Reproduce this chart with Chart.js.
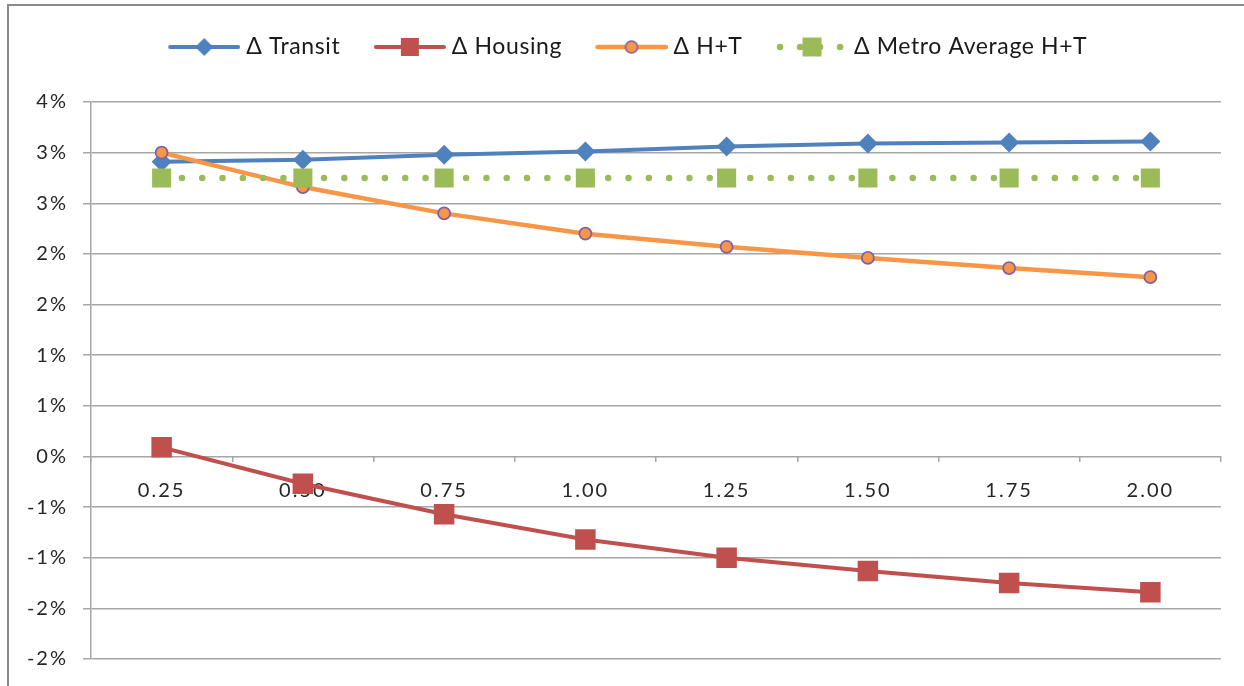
<!DOCTYPE html>
<html>
<head>
<meta charset="utf-8">
<script src="https://cdn.jsdelivr.net/npm/chart.js@4/dist/chart.umd.min.js"></script>
<style>
  html, body { margin: 0; padding: 0; background: #ffffff; }
  #wrap { position: relative; width: 1244px; height: 686px; overflow: hidden; background: #ffffff; }
  #frame { position: absolute; left: 7px; top: 4px; width: 1400px; height: 900px;
           border-left: 2px solid #8a8a8a; border-top: 2px solid #8a8a8a; }
  #box { position: absolute; left: 0; top: 0; width: 1244px; height: 686px; }
</style>
</head>
<body>
<div id="wrap">
  <div id="frame"></div>
  <div id="box"><canvas id="chart"></canvas></div>
</div>
<script>
// Categories along the x axis
const categories = ['0.25', '0.50', '0.75', '1.00', '1.25', '1.50', '1.75', '2.00'];

// Series values, in percent
const transit  = [2.91, 2.93, 2.98, 3.01, 3.06, 3.09, 3.10, 3.11];
const housing  = [0.09, -0.27, -0.57, -0.82, -1.00, -1.13, -1.25, -1.34];
const hPlusT   = [3.00, 2.66, 2.40, 2.20, 2.07, 1.96, 1.86, 1.77];
const metroAvg = [2.75, 2.75, 2.75, 2.75, 2.75, 2.75, 2.75, 2.75];

// Series names
const seriesNames = ['Δ Transit', 'Δ Housing', 'Δ H+T', 'Δ Metro Average H+T'];

// Value axis range, in percent
const yMin = -2.0;
const yMax = 3.5;
const yStep = 0.5;

const BLUE = '#4F81BD';
const RED = '#C0504D';
const ORANGE = '#F79646';
const PURPLE = '#7E62A8';
const GREEN = '#9BBB59';
const GRID = '#a6a6a6';
const TEXT = '#262626';
const FONT = 'Lato, "Open Sans", sans-serif';

// Extra tracking for axis and legend text
const TICK_SPACING = '2px';
const LEGEND_SPACING = '0.6px';

// Plot frame: left edge of the plot and left page margin
const PAD_LEFT = 7;
const PLOT_LEFT = 91;

// Legend geometry
const LEG_FONT = 23;
const LEG_GAP = 6;
const SAMPLE_LEN = 72;
const BOX_W = 94;
const IMG_W = BOX_W + LEG_FONT - 12;   // sample ends 6px before the text
const IMG_H = 28;

function makeSample(kind) {
  const cv = document.createElement('canvas');
  cv.width = IMG_W; cv.height = IMG_H;
  const g = cv.getContext('2d');
  const x1 = IMG_W - SAMPLE_LEN, x2 = IMG_W, cy = IMG_H / 2, cx = (x1 + x2) / 2;
  g.lineCap = 'round';
  if (kind === 'transit') {
    g.strokeStyle = BLUE; g.lineWidth = 4;
    g.beginPath(); g.moveTo(x1 + 2, cy); g.lineTo(x2 - 2, cy); g.stroke();
    g.fillStyle = BLUE;
    g.beginPath(); g.moveTo(cx, cy - 9); g.lineTo(cx + 9, cy); g.lineTo(cx, cy + 9); g.lineTo(cx - 9, cy); g.closePath(); g.fill();
  } else if (kind === 'housing') {
    g.strokeStyle = RED; g.lineWidth = 4;
    g.beginPath(); g.moveTo(x1 + 2, cy); g.lineTo(x2 - 2, cy); g.stroke();
    g.fillStyle = RED; g.fillRect(cx - 9, cy - 9, 18, 18);
  } else if (kind === 'ht') {
    g.strokeStyle = ORANGE; g.lineWidth = 4.5;
    g.beginPath(); g.moveTo(x1 + 2, cy); g.lineTo(x2 - 2, cy); g.stroke();
    g.fillStyle = ORANGE; g.strokeStyle = PURPLE; g.lineWidth = 1.6;
    g.beginPath(); g.arc(cx, cy, 6, 0, Math.PI * 2); g.fill(); g.stroke();
  } else {
    g.strokeStyle = GREEN; g.lineWidth = 6.5; g.setLineDash([0, 20]);
    g.beginPath(); g.moveTo(x1 + 4, cy); g.lineTo(x2, cy); g.stroke();
    g.setLineDash([]);
    g.fillStyle = GREEN; g.fillRect(cx - 9.5, cy - 9.5, 19, 19);
  }
  return cv;
}
const samples = [makeSample('transit'), makeSample('housing'), makeSample('ht'), makeSample('metro')];

function pctLabel(v) {
  // whole-percent labels, halves rounded away from zero
  const r = Math.sign(v) * Math.round(Math.abs(v) + 1e-9);
  return (r === 0 ? 0 : r) + '%';
}

// Letter spacing: one value for axis text, another while the legend measures and draws
const textSpacing = {
  id: 'textSpacing',
  afterInit(chart) {
    const lg = chart.legend;
    if (!lg) return;
    const wrap = (fn) => function (...args) {
      const c = chart.ctx;
      const prev = c.letterSpacing;
      c.letterSpacing = LEGEND_SPACING;
      const out = fn.apply(this, args);
      c.letterSpacing = prev;
      return out;
    };
    lg.fit = wrap(lg.fit);
    lg.draw = wrap(lg.draw);
  },
  beforeUpdate(chart) { chart.ctx.letterSpacing = TICK_SPACING; },
  beforeDraw(chart) { chart.ctx.letterSpacing = TICK_SPACING; }
};

new Chart(document.getElementById('chart'), {
  type: 'line',
  plugins: [textSpacing],
  data: {
    labels: categories,
    datasets: [
      { label: seriesNames[0], data: transit, borderColor: BLUE, backgroundColor: BLUE,
        borderWidth: 4, pointStyle: 'rectRot', pointRadius: 10, pointBorderWidth: 0,
        pointBackgroundColor: BLUE, order: 4 },
      { label: seriesNames[1], data: housing, borderColor: RED, backgroundColor: RED,
        borderWidth: 4, pointStyle: 'rect', pointRadius: 14.5, pointBorderWidth: 0,
        pointBackgroundColor: RED, order: 3 },
      { label: seriesNames[2], data: hPlusT, borderColor: ORANGE, backgroundColor: ORANGE,
        borderWidth: 4.5, pointStyle: 'circle', pointRadius: 6, pointBorderWidth: 1.8,
        pointBorderColor: PURPLE, pointBackgroundColor: ORANGE, order: 2 },
      { label: seriesNames[3], data: metroAvg, borderColor: GREEN, backgroundColor: GREEN,
        borderWidth: 6.5, borderDash: [0, 20.3], borderCapStyle: 'round',
        pointStyle: 'rect', pointRadius: 13.5, pointBorderWidth: 0,
        pointBackgroundColor: GREEN, order: 1 }
    ]
  },
  options: {
    responsive: true,
    maintainAspectRatio: false,
    animation: false,
    events: [],
    layout: { padding: { top: 29.5, left: PAD_LEFT, right: 23, bottom: 20 } },
    plugins: {
      tooltip: { enabled: false },
      legend: {
        position: 'top',
        labels: {
          font: { family: FONT, size: LEG_FONT },
          color: '#1a1a1a',
          usePointStyle: true,
          pointStyleWidth: BOX_W,
          padding: LEG_GAP,
          generateLabels: (chart) => chart.data.datasets.map((ds, i) => ({
            text: ds.label, pointStyle: samples[i], fillStyle: ds.borderColor,
            strokeStyle: ds.borderColor, lineWidth: 0, hidden: false, datasetIndex: i,
            fontColor: '#1a1a1a'
          }))
        }
      },
      title: {
        display: true, text: '', weight: 500,
        font: { size: 10, lineHeight: 1 }, padding: { top: 0, bottom: 23.5 }
      }
    },
    scales: {
      x: {
        type: 'category',
        position: { y: 0 },
        offset: true,
        grid: { offset: true, drawOnChartArea: false, drawTicks: true, tickLength: 6,
                color: GRID, lineWidth: 1.5 },
        border: { display: false },
        ticks: { font: { family: FONT, size: 20 }, color: TEXT, padding: 16,
                 maxRotation: 0, autoSkip: false }
      },
      y: {
        min: yMin, max: yMax,
        grid: { color: GRID, lineWidth: 1.5, tickLength: 8 },
        border: { display: true, color: GRID, width: 1.5 },
        ticks: { stepSize: yStep, font: { family: FONT, size: 20 }, color: TEXT,
                 padding: 15, callback: (v) => pctLabel(v) },
        afterFit: (scale) => { scale.width = PLOT_LEFT - PAD_LEFT; }
      }
    }
  }
});
</script>
</body>
</html>
